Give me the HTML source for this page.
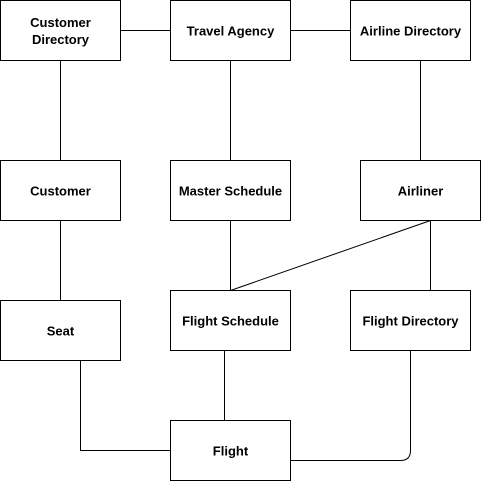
<!DOCTYPE html>
<html><head><style>html,body{margin:0;padding:0;background:#fff}svg{display:block}</style></head>
<body>
<svg width="481" height="481" viewBox="0 0 481 481" xmlns="http://www.w3.org/2000/svg" font-family="Liberation Sans, Arial, sans-serif" font-size="13" font-weight="bold" text-anchor="middle" fill="#000">
<g stroke="#000" stroke-width="1" fill="none">
<line x1="120.5" y1="30.5" x2="170.5" y2="30.5"/>
<line x1="290.5" y1="30.5" x2="350.5" y2="30.5"/>
<line x1="60.5" y1="60.5" x2="60.5" y2="160.5"/>
<line x1="230.5" y1="60.5" x2="230.5" y2="160.5"/>
<line x1="420.5" y1="60.5" x2="420.5" y2="160.5"/>
<line x1="60.5" y1="220.5" x2="60.5" y2="300.5"/>
<line x1="230.5" y1="220.5" x2="230.5" y2="290.5"/>
<line x1="430.5" y1="220.5" x2="230.5" y2="290.5"/>
<line x1="430.5" y1="220.5" x2="430.5" y2="290.5"/>
<line x1="224.5" y1="350.5" x2="224.5" y2="420.5"/>
<path d="M80.5 360.5 V450.5 H170.5"/>
<path d="M410.5 350.5 V450.5 Q410.5 460.5 400.5 460.5 H290.5"/>
<rect x="0.5" y="0.5" width="120" height="60"/>
<rect x="170.5" y="0.5" width="120" height="60"/>
<rect x="350.5" y="0.5" width="120" height="60"/>
<rect x="0.5" y="160.5" width="120" height="60"/>
<rect x="170.5" y="160.5" width="120" height="60"/>
<rect x="360.5" y="160.5" width="120" height="60"/>
<rect x="0.5" y="300.5" width="120" height="60"/>
<rect x="170.5" y="290.5" width="120" height="60"/>
<rect x="350.5" y="290.5" width="120" height="60"/>
<rect x="170.5" y="420.5" width="120" height="60"/>
</g>
<text x="60.5" y="27">Customer</text>
<text x="60.5" y="44">Directory</text>
<text x="230.5" y="35.5">Travel Agency</text>
<text x="410.5" y="35.5">Airline Directory</text>
<text x="60.5" y="195.5">Customer</text>
<text x="230.5" y="195.5">Master Schedule</text>
<text x="420.5" y="195.5">Airliner</text>
<text x="60.5" y="335.5">Seat</text>
<text x="230.5" y="325.5">Flight Schedule</text>
<text x="410.5" y="325.5">Flight Directory</text>
<text x="230.5" y="455.5">Flight</text>
</svg>
</body></html>
